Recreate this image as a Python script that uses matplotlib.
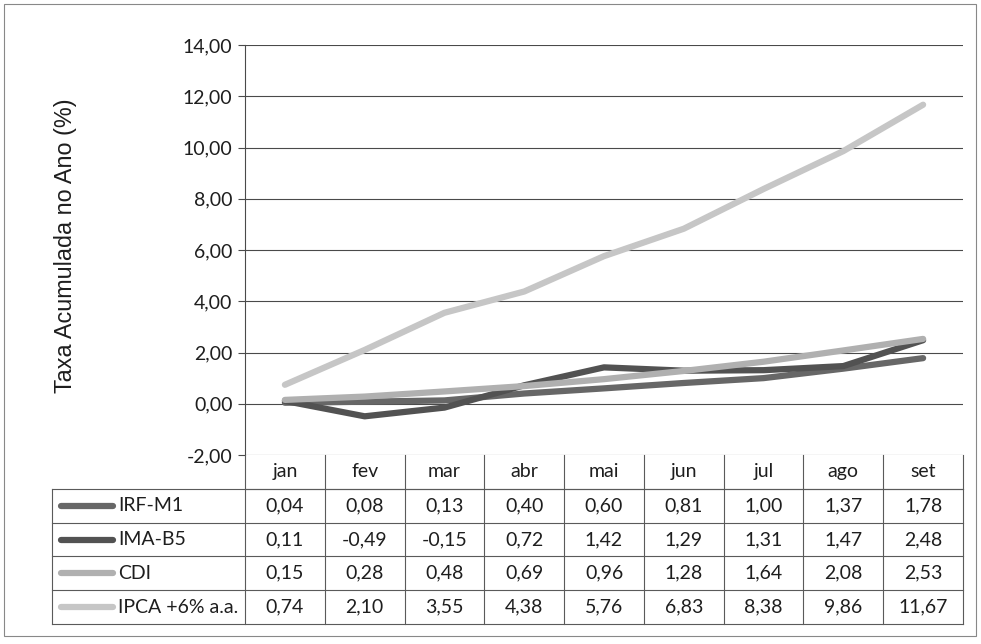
import matplotlib.pyplot as plt
from matplotlib.lines import Line2D
from matplotlib.patches import Rectangle

meses = ["jan", "fev", "mar", "abr", "mai", "jun", "jul", "ago", "set"]
series = ["IRF-M1", "IMA-B5", "CDI", "IPCA +6% a.a."]
irf_m1 = [0.04, 0.08, 0.13, 0.40, 0.60, 0.81, 1.00, 1.37, 1.78]
ima_b5 = [0.11, -0.49, -0.15, 0.72, 1.42, 1.29, 1.31, 1.47, 2.48]
cdi = [0.15, 0.28, 0.48, 0.69, 0.96, 1.28, 1.64, 2.08, 2.53]
ipca = [0.74, 2.10, 3.55, 4.38, 5.76, 6.83, 8.38, 9.86, 11.67]
cores = ["#676767", "#525252", "#b0b0b0", "#c6c6c6"]
yticks = [-2, 0, 2, 4, 6, 8, 10, 12, 14]

valores = [irf_m1, ima_b5, cdi, ipca]

W, H = 981, 644
fig = plt.figure(figsize=(W / 100, H / 100), dpi=100)
plt.rcParams['font.family'] = ['Lato', 'DejaVu Sans']


def fmt(v):
    return f"{v:.2f}".replace(".", ",")


# area do grafico em pixels
x0, x1 = 245, 963
ytop, ybot = 45, 455
ax = fig.add_axes([x0 / W, 1 - ybot / H, (x1 - x0) / W, (ybot - ytop) / H])
ax.set_xlim(-0.5, len(meses) - 0.5)
ax.set_ylim(-2, 14)
ax.set_yticks(yticks)
ax.set_yticklabels([fmt(v) for v in yticks], fontsize=14, color="#1e1e1e")
ax.set_xticks([])
for y in yticks:
    ax.axhline(y, color="#4a4a4a", lw=0.8, zorder=1)
for s in ["top", "right", "bottom"]:
    ax.spines[s].set_visible(False)
ax.spines["left"].set_color("#4a4a4a")
ax.spines["left"].set_linewidth(0.8)
ax.tick_params(axis="y", length=5, width=0.8, color="#4a4a4a", pad=4)

for vals, c in zip(valores, cores):
    ax.plot(range(len(meses)), vals, color=c, lw=4.5, solid_capstyle="round", zorder=3)

fig.text(66 / W, 1 - 246 / H, "Taxa Acumulada no Ano (%)", family="Liberation Sans",
         fontsize=16.8, color="#1e1e1e", rotation=90, ha="center", va="center")

# tabela de dados
tb = fig.add_axes([0, 0, 1, 1])
tb.set_xlim(0, W)
tb.set_ylim(H, 0)
tb.axis("off")

col_w = (x1 - x0) / len(meses)
lab_x0 = 52
row_h = 33.8
r0 = ybot
lc = "#5a5a5a"

# linhas horizontais
tb.plot([x0, x1], [r0 + row_h, r0 + row_h], color=lc, lw=0.8)
for i in range(len(series) + 1):
    y = r0 + row_h * (i + 1)
    tb.plot([lab_x0, x1], [y, y], color=lc, lw=0.8)
# linhas verticais
tb.plot([lab_x0, lab_x0], [r0 + row_h, r0 + row_h * 5], color=lc, lw=0.8)
for j in range(len(meses) + 1):
    x = x0 + col_w * j
    tb.plot([x, x], [r0, r0 + row_h * 5], color=lc, lw=0.8)

for j, m in enumerate(meses):
    tb.text(x0 + col_w * (j + 0.5), r0 + row_h * 0.5, m, ha="center", va="center",
            fontsize=14, color="#1e1e1e")

for i, (nome, vals, c) in enumerate(zip(series, valores, cores)):
    yc = r0 + row_h * (i + 1.5)
    tb.add_line(Line2D([61, 113], [yc, yc], color=c, lw=4.5, solid_capstyle="round"))
    tb.text(118, yc, nome, ha="left", va="center", fontsize=14, color="#1e1e1e")
    for j, v in enumerate(vals):
        tb.text(x0 + col_w * (j + 0.5), yc, fmt(v), ha="center", va="center",
                fontsize=14, color="#1e1e1e")

# moldura externa
tb.add_patch(Rectangle((4, 4), 972, 632, fill=False, ec="#888888", lw=0.8))

fig.savefig("out.png", dpi=100)
